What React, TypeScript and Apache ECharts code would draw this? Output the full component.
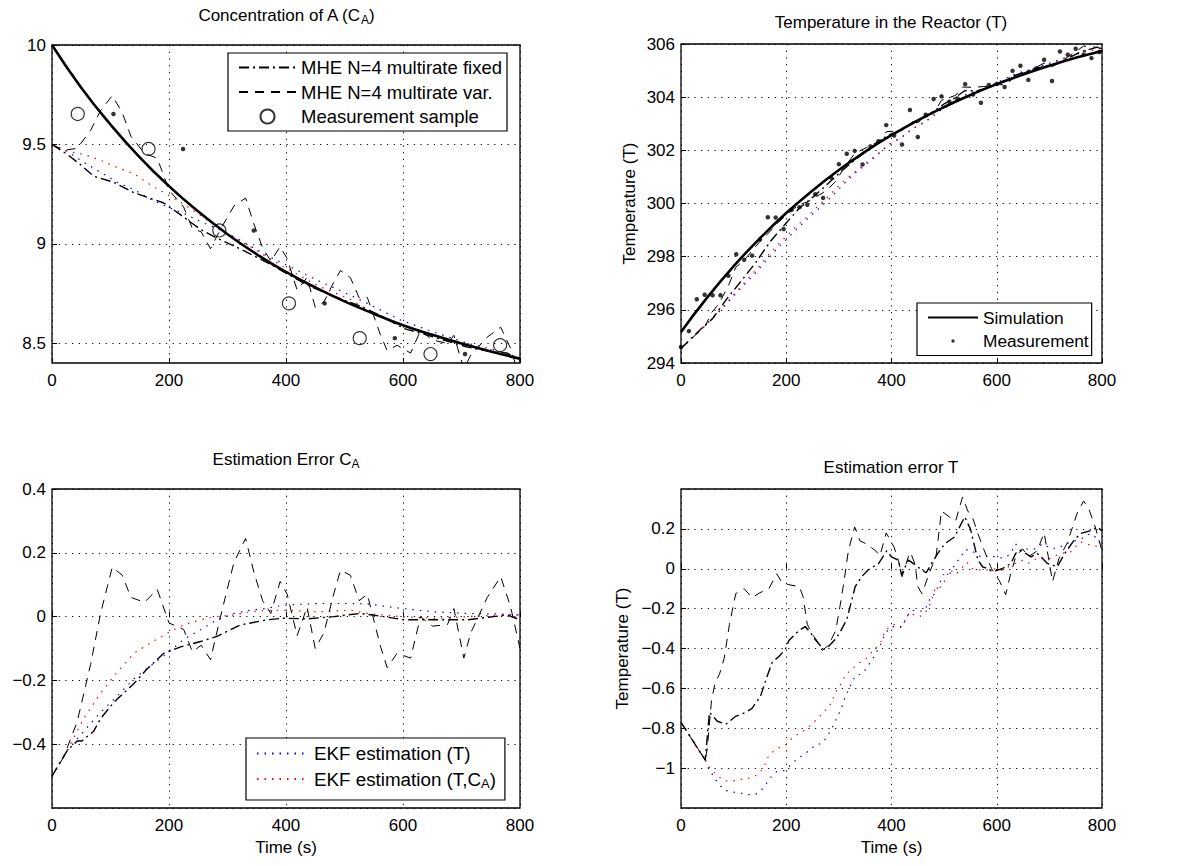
import React, { useEffect, useRef } from 'react';
import * as echarts from 'echarts';

const FONT = '"Liberation Sans", Arial, Helvetica, sans-serif';

// ---------- data ----------
const simTimes = [0, 50, 100, 150, 200, 250, 300, 350, 400, 450, 500, 550, 600, 650, 700, 750, 800];
const simCA = [10.0, 9.785, 9.6, 9.435, 9.29, 9.162, 9.048, 8.947, 8.858, 8.78, 8.71, 8.648, 8.59, 8.542, 8.498, 8.458, 8.422];
const simT = [295.17, 296.47, 297.64, 298.69, 299.64, 300.49, 301.26, 301.95, 302.57, 303.13, 303.63, 304.08, 304.49, 304.85, 305.18, 305.48, 305.74];

const caSamples = [[44, 9.653], [165, 9.477], [286, 9.067], [405, 8.7], [526, 8.525], [647, 8.445], [766, 8.49]];
const caMeasDots = [[105, 9.653], [224, 9.477], [345, 9.067], [466, 8.7], [586, 8.525], [706, 8.445]];

const caMheFixed = [[0, 9.5], [26, 9.45], [50, 9.395], [71, 9.34], [105, 9.31], [140, 9.257], [162, 9.235], [191, 9.205], [220, 9.145], [254, 9.072], [282, 9.028], [322, 8.974], [368, 8.905], [396, 8.859], [436, 8.793], [482, 8.735], [527, 8.686], [567, 8.63], [602, 8.573], [653, 8.53], [710, 8.48], [755, 8.455], [778, 8.45], [800, 8.41]];
const caMheVar = [[0, 9.5], [20, 9.47], [43, 9.48], [66, 9.57], [83, 9.67], [103, 9.745], [120, 9.66], [135, 9.54], [158, 9.455], [180, 9.43], [200, 9.27], [225, 9.185], [240, 9.077], [255, 9.06], [271, 8.975], [288, 9.073], [311, 9.19], [331, 9.23], [345, 9.1], [360, 8.98], [374, 8.913], [390, 8.985], [402, 8.925], [419, 8.767], [436, 8.83], [450, 8.68], [465, 8.708], [480, 8.797], [493, 8.865], [510, 8.83], [525, 8.728], [539, 8.73], [561, 8.545], [573, 8.462], [590, 8.489], [613, 8.45], [630, 8.564], [650, 8.516], [676, 8.498], [687, 8.539], [704, 8.37], [716, 8.44], [744, 8.53], [767, 8.58], [784, 8.473], [800, 8.32]];
const caEkfT = [[0, 9.5], [26, 9.465], [54, 9.41], [83, 9.36], [111, 9.31], [140, 9.272], [168, 9.225], [197, 9.185], [225, 9.153], [254, 9.111], [282, 9.077], [311, 9.035], [339, 8.99], [368, 8.94], [396, 8.9], [453, 8.817], [510, 8.741], [539, 8.7], [596, 8.616], [653, 8.555], [710, 8.5], [767, 8.458], [800, 8.425]];
const caEkfTCa = [[0, 9.5], [26, 9.465], [54, 9.45], [83, 9.42], [111, 9.385], [140, 9.352], [168, 9.297], [197, 9.248], [225, 9.199], [254, 9.142], [282, 9.087], [311, 9.03], [339, 8.985], [368, 8.933], [396, 8.884], [453, 8.791], [510, 8.72], [539, 8.67], [596, 8.59], [653, 8.535], [710, 8.49], [767, 8.455], [800, 8.425]];

const tMeas = [[0, 294.6], [15, 295.2], [30, 296.4], [45, 296.57], [60, 296.55], [75, 296.55], [90, 297.28], [105, 298.09], [120, 297.88], [135, 298.04], [150, 298.65], [165, 299.48], [180, 299.47], [195, 299.04], [210, 299.76], [225, 299.86], [240, 299.95], [255, 300.35], [270, 300.21], [285, 300.98], [300, 301.48], [315, 301.87], [330, 301.98], [345, 301.47], [360, 302.15], [375, 302.34], [390, 302.95], [405, 302.56], [420, 302.22], [435, 303.52], [450, 302.5], [465, 303.34], [480, 303.93], [495, 304.03], [510, 303.83], [525, 303.95], [540, 304.49], [555, 304.1], [570, 303.79], [585, 304.46], [600, 304.5], [615, 304.38], [630, 304.99], [645, 305.18], [660, 304.65], [675, 305.08], [690, 305.41], [705, 304.61], [720, 305.72], [735, 305.6], [750, 305.82], [765, 305.6], [780, 305.47], [795, 305.7]];
const tMheFixed = [[0, 294.55], [32, 295.17], [60, 295.67], [87, 296.41], [115, 297.1], [142, 297.78], [170, 298.58], [197, 299.2], [225, 299.83], [252, 300.26], [280, 300.76], [307, 301.25], [330, 301.63], [356, 302.03], [375, 302.29], [391, 302.55], [420, 302.77], [441, 303.06], [466, 303.27], [501, 303.76], [520, 303.97], [539, 304.24], [564, 304.24], [592, 304.41], [636, 304.83], [677, 305.1], [715, 305.27], [759, 305.7], [800, 305.93]];
const tMheVar = [[0, 294.55], [46, 295.39], [58, 295.89], [73, 296.25], [92, 297.0], [104, 297.6], [120, 297.87], [135, 298.22], [150, 298.57], [167, 298.9], [182, 299.24], [205, 299.65], [225, 299.97], [240, 300.05], [258, 300.27], [268, 300.38], [280, 300.55], [294, 300.84], [310, 301.34], [330, 301.88], [352, 302.1], [378, 302.36], [390, 302.7], [420, 302.74], [436, 303.08], [450, 303.04], [468, 303.28], [485, 303.55], [495, 303.88], [522, 304.07], [535, 304.38], [555, 304.37], [575, 304.4], [605, 304.47], [617, 304.47], [636, 304.79], [660, 304.98], [690, 305.28], [706, 305.15], [734, 305.5], [765, 305.92], [787, 305.88], [800, 305.83]];
const tEkfT = [[0, 294.55], [46, 295.41], [65, 295.78], [86, 296.21], [113, 296.8], [141, 297.37], [162, 297.85], [182, 298.29], [207, 298.78], [231, 299.25], [254, 299.67], [277, 300.08], [299, 300.52], [317, 300.89], [331, 301.15], [345, 301.36], [363, 301.65], [392, 302.17], [420, 302.51], [437, 302.78], [467, 303.11], [480, 303.3], [498, 303.58], [521, 303.85], [539, 304.08], [572, 304.32], [601, 304.55], [636, 304.88], [673, 305.1], [705, 305.31], [737, 305.53], [778, 305.81], [800, 305.85]];
const tEkfTCa = [[0, 294.55], [46, 295.41], [71, 295.93], [95, 296.46], [124, 297.1], [150, 297.67], [165, 298.04], [187, 298.5], [211, 298.99], [236, 299.44], [260, 299.9], [283, 300.32], [298, 300.63], [313, 300.91], [339, 301.33], [361, 301.67], [380, 301.96], [397, 302.25], [419, 302.48], [444, 302.85], [466, 303.09], [483, 303.44], [499, 303.56], [523, 303.86], [543, 304.05], [576, 304.3], [609, 304.55], [648, 304.88], [681, 305.1], [721, 305.39], [759, 305.66], [800, 305.84]];

const errCaMheFixed = [[0, -0.5], [26, -0.42], [43, -0.39], [51, -0.39], [71, -0.36], [83, -0.32], [105, -0.27], [140, -0.21], [162, -0.165], [191, -0.115], [220, -0.095], [254, -0.078], [282, -0.062], [322, -0.026], [368, -0.01], [396, -0.005], [436, -0.007], [482, 0.0], [527, 0.01], [567, 0.0], [602, -0.01], [653, -0.01], [710, -0.01], [755, 0.0], [778, 0.005], [800, -0.01]];
const errCaMheVar = [[0, -0.5], [20, -0.44], [43, -0.33], [66, -0.15], [83, 0.01], [103, 0.155], [120, 0.13], [135, 0.06], [158, 0.045], [180, 0.085], [200, -0.02], [225, -0.04], [240, -0.11], [255, -0.09], [271, -0.135], [288, 0.0], [311, 0.17], [331, 0.245], [345, 0.14], [360, 0.05], [374, 0.01], [390, 0.11], [402, 0.07], [419, -0.06], [436, 0.03], [450, -0.1], [465, -0.05], [480, 0.06], [493, 0.145], [510, 0.13], [525, 0.05], [539, 0.07], [561, -0.09], [573, -0.16], [590, -0.115], [613, -0.13], [630, 0.0], [650, -0.03], [676, -0.025], [687, 0.025], [704, -0.13], [716, -0.05], [744, 0.06], [767, 0.125], [784, 0.03], [800, -0.1]];
const errCaEkfT = [[0, -0.5], [26, -0.42], [54, -0.36], [83, -0.3], [111, -0.25], [140, -0.195], [168, -0.155], [197, -0.115], [225, -0.072], [254, -0.041], [282, -0.01], [311, 0.01], [339, 0.02], [368, 0.026], [396, 0.036], [453, 0.041], [510, 0.041], [539, 0.04], [596, 0.026], [653, 0.015], [710, 0.01], [767, 0.008], [800, 0.005]];
const errCaEkfTCa = [[0, -0.5], [26, -0.42], [54, -0.32], [83, -0.24], [111, -0.175], [140, -0.115], [168, -0.083], [197, -0.052], [225, -0.026], [254, -0.01], [282, 0.0], [311, 0.005], [339, 0.015], [368, 0.019], [396, 0.02], [453, 0.015], [510, 0.02], [539, 0.01], [596, 0.0], [653, -0.005], [710, 0.0], [767, 0.005], [800, 0.005]];

const errTMheVar = [[0, -0.77], [46, -0.96], [50, -0.9], [58, -0.66], [65, -0.57], [73, -0.53], [82, -0.45], [92, -0.28], [104, -0.125], [120, -0.1], [135, -0.145], [150, -0.12], [167, -0.1], [182, -0.025], [192, -0.07], [205, -0.08], [225, -0.09], [232, -0.14], [240, -0.28], [250, -0.33], [258, -0.36], [268, -0.41], [280, -0.385], [294, -0.31], [302, -0.19], [310, -0.06], [318, 0.09], [330, 0.21], [340, 0.14], [352, 0.125], [370, 0.09], [378, 0.065], [390, 0.18], [405, 0.108], [414, 0.033], [420, -0.04], [432, 0.06], [436, 0.083], [445, 0.02], [450, -0.09], [458, -0.125], [468, -0.05], [478, 0.02], [485, 0.07], [495, 0.29], [510, 0.26], [522, 0.24], [535, 0.36], [545, 0.29], [555, 0.25], [565, 0.17], [575, 0.1], [590, 0.0], [605, -0.06], [617, -0.13], [626, -0.03], [636, 0.06], [649, 0.1], [660, 0.06], [677, 0.09], [690, 0.18], [698, 0.06], [706, -0.065], [718, 0.05], [734, 0.13], [753, 0.28], [765, 0.34], [775, 0.3], [787, 0.21], [800, 0.09]];
const errTMheFixed = [[0, -0.77], [46, -0.96], [54, -0.72], [69, -0.765], [85, -0.78], [104, -0.74], [123, -0.72], [135, -0.7], [151, -0.64], [161, -0.56], [173, -0.47], [186, -0.44], [198, -0.405], [205, -0.36], [224, -0.31], [236, -0.29], [246, -0.32], [255, -0.355], [271, -0.405], [280, -0.39], [293, -0.355], [302, -0.32], [315, -0.255], [331, -0.09], [343, -0.04], [356, -0.005], [375, 0.025], [391, 0.09], [400, 0.06], [413, 0.043], [419, -0.03], [432, 0.043], [441, 0.027], [457, -0.005], [466, -0.02], [476, 0.027], [488, 0.077], [501, 0.125], [520, 0.16], [539, 0.26], [550, 0.2], [564, 0.045], [573, 0.01], [583, 0.0], [592, -0.015], [610, 0.0], [627, 0.027], [636, 0.077], [646, 0.093], [655, 0.077], [665, 0.06], [677, 0.077], [696, 0.027], [715, 0.01], [730, 0.08], [747, 0.143], [759, 0.177], [781, 0.193], [791, 0.21], [800, 0.19]];
const errTEkfT = [[0, -0.77], [46, -0.958], [57, -1.02], [65, -1.055], [74, -1.088], [86, -1.113], [99, -1.12], [113, -1.125], [127, -1.133], [141, -1.133], [153, -1.11], [162, -1.078], [171, -1.045], [182, -1.017], [196, -1.012], [207, -0.988], [219, -0.958], [231, -0.935], [243, -0.913], [254, -0.887], [268, -0.875], [277, -0.845], [285, -0.808], [292, -0.772], [299, -0.733], [306, -0.692], [311, -0.65], [317, -0.615], [324, -0.575], [331, -0.538], [345, -0.525], [363, -0.458], [378, -0.388], [385, -0.342], [392, -0.312], [403, -0.29], [420, -0.29], [431, -0.233], [437, -0.208], [460, -0.213], [467, -0.188], [475, -0.138], [480, -0.133], [491, -0.078], [498, -0.03], [510, -0.03], [521, 0.025], [531, 0.055], [539, 0.095], [550, 0.095], [572, 0.055], [587, 0.067], [601, 0.055], [615, 0.055], [626, 0.075], [636, 0.125], [645, 0.088], [659, 0.1], [673, 0.1], [687, 0.125], [705, 0.1], [721, 0.11], [737, 0.13], [762, 0.152], [778, 0.177], [791, 0.152], [800, 0.11]];
const errTEkfTCa = [[0, -0.77], [46, -0.958], [50, -0.983], [60, -1.013], [71, -1.042], [83, -1.063], [95, -1.067], [109, -1.058], [124, -1.053], [138, -1.045], [150, -1.022], [159, -0.987], [165, -0.947], [175, -0.917], [187, -0.897], [200, -0.88], [211, -0.85], [223, -0.828], [236, -0.808], [247, -0.783], [260, -0.75], [272, -0.717], [283, -0.683], [290, -0.642], [298, -0.6], [306, -0.57], [313, -0.53], [327, -0.5], [339, -0.472], [350, -0.455], [361, -0.422], [372, -0.392], [380, -0.367], [386, -0.322], [397, -0.287], [408, -0.278], [419, -0.297], [433, -0.222], [444, -0.233], [455, -0.238], [466, -0.213], [474, -0.175], [483, -0.1], [490, -0.1], [499, -0.072], [511, -0.005], [523, -0.027], [534, 0.005], [543, 0.033], [556, -0.005], [565, -0.005], [576, -0.008], [596, 0.0], [609, -0.008], [630, 0.02], [648, 0.042], [660, 0.028], [681, 0.058], [700, 0.05], [721, 0.077], [740, 0.085], [759, 0.135], [778, 0.118], [795, 0.11], [800, 0.1]];

const caTicks = [8.5, 9, 9.5, 10];

// ---------- names ----------
const N_SIM = 'Simulation';
const N_MEAS = 'Measurement';
const N_SAMPLE = 'Measurement sample';
const N_FIXED = 'MHE N=4 multirate fixed';
const N_VAR = 'MHE N=4 multirate var.';
const N_EKF_T = 'EKF estimation (T)';
const N_EKF_TC = 'EKF estimation (T,CA)';

const DOT_ICON = 'path://M0,0M20,0M20,20M0,20M7.6,10A2.4,2.4,0,1,1,12.4,10A2.4,2.4,0,1,1,7.6,10Z';

const fmt = (v: number) => {
  const s = String(Math.round(v * 1000) / 1000);
  return s.replace('-', '\u2212');
};

const lineStyles: Record<string, any> = {
  [N_FIXED]: { color: '#000', width: 1.4, type: [10, 4, 2, 4] },
  [N_VAR]: { color: '#000', width: 1, type: [9, 7] },
  [N_EKF_T]: { color: '#0000ff', width: 1.2, type: [1.5, 6] },
  [N_EKF_TC]: { color: '#ff0000', width: 1.2, type: [1.5, 6] },
};

function lineSeries(name: string, idx: number, data: number[][], z = 2) {
  const ls = lineStyles[name];
  return {
    type: 'line', name, xAxisIndex: idx, yAxisIndex: idx, data,
    symbol: 'none', showSymbol: false, lineStyle: ls, itemStyle: { color: ls.color },
    z, clip: true,
  };
}

function simSeries(idx: number, vals: number[]) {
  return {
    type: 'line', name: N_SIM, xAxisIndex: idx, yAxisIndex: idx,
    data: simTimes.map((t, i) => [t, vals[i]]), smooth: true,
    symbol: 'none', showSymbol: false, lineStyle: { color: '#000', width: 2.6 }, itemStyle: { color: '#000' }, z: 3,
  };
}

function dotSeries(idx: number, data: number[][]) {
  return {
    type: 'scatter', name: N_MEAS, xAxisIndex: idx, yAxisIndex: idx, data,
    symbol: 'circle', symbolSize: 4.5, itemStyle: { color: '#000' }, z: 4,
  };
}

const labelStyle = { color: '#000', fontSize: 17, fontFamily: FONT };
const splitStyle = { show: true, lineStyle: { color: '#000', width: 1, type: [1.2, 5.5] } };

function xAxis(idx: number, withName: boolean) {
  return {
    type: 'value', gridIndex: idx, min: 0, max: 800, interval: 200,
    axisLine: { show: false },
    axisTick: { show: true, inside: true, length: 5, lineStyle: { color: '#000' } },
    axisLabel: { ...labelStyle, margin: 9, formatter: fmt },
    splitLine: splitStyle,
    name: withName ? 'Time (s)' : '', nameLocation: 'middle', nameGap: 31,
    nameTextStyle: { ...labelStyle },
  };
}

function yAxis(idx: number, min: number, max: number, interval: number | null, opts: any = {}) {
  const a: any = {
    type: 'value', gridIndex: idx, min, max,
    axisLine: { show: false },
    axisTick: { show: true, inside: true, length: 5, lineStyle: { color: '#000' } },
    axisLabel: { ...labelStyle, margin: 6, formatter: fmt },
    splitLine: splitStyle,
    nameLocation: 'middle',
    nameTextStyle: { ...labelStyle },
    ...opts,
  };
  if (interval !== null) a.interval = interval;
  return a;
}

const subRich = (fs: number) => ({ s: { fontSize: Math.round(fs * 0.7), fontFamily: FONT, color: '#000', padding: [Math.round(fs * 0.5), 0, 0, 0] } });

function titleText(x: number, y: number, text: string) {
  return {
    type: 'text', x, y, z: 10,
    style: {
      text, rich: subRich(17), fill: '#000', fontSize: 17, fontFamily: FONT,
      align: 'center', verticalAlign: 'middle',
    },
  };
}

const HIDE_SYM = { opacity: 0, color: 'rgba(0,0,0,0)', borderColor: 'rgba(0,0,0,0)', borderWidth: 0 };
const lineItem = (name: string) => ({ name, itemStyle: HIDE_SYM });

function legendBox(names: any[], left: number, top: number, pad: number[], gap: number, fs: number, iw: number) {
  return {
    data: names, left, top, orient: 'vertical',
    itemWidth: iw, itemHeight: 14, itemGap: gap,
    padding: pad,
    borderColor: '#000', borderWidth: 1.2, backgroundColor: '#fff',
    textStyle: { color: '#000', fontSize: fs, fontFamily: FONT, rich: subRich(fs) },
    formatter: (n: string) => (n === N_EKF_TC ? 'EKF estimation (T,C{s|A})' : n),
    selectedMode: false,
  };
}

export default function App() {
  const ref = useRef<HTMLDivElement>(null);
  useEffect(() => {
    if (!ref.current) return;
    const chart = echarts.init(ref.current, null, { renderer: 'svg' });
    const G = { show: true, borderColor: '#000', borderWidth: 1.3, backgroundColor: '#fff' };
    const option: any = {
      animation: false,
      backgroundColor: '#fff',
      grid: [
        { ...G, left: 52, top: 45, width: 468, height: 318 },
        { ...G, left: 681, top: 44, width: 421, height: 319 },
        { ...G, left: 52, top: 489, width: 468, height: 319 },
        { ...G, left: 681, top: 489, width: 421, height: 319 },
      ],
      xAxis: [xAxis(0, false), xAxis(1, false), xAxis(2, true), xAxis(3, true)],
      yAxis: [
        yAxis(0, 8.4, 10, null, {
          axisLabel: { ...labelStyle, margin: 6, formatter: fmt, customValues: caTicks },
          axisTick: { show: true, inside: true, length: 5, lineStyle: { color: '#000' }, customValues: caTicks },
        }),
        yAxis(1, 294, 306, 2, { name: 'Temperature (T)', nameGap: 43 }),
        yAxis(2, -0.6, 0.4, 0.2, { axisLabel: { ...labelStyle, margin: 6, formatter: fmt, showMinLabel: false } }),
        yAxis(3, -1.2, 0.4, 0.2, {
          name: 'Temperature (T)', nameGap: 50,
          axisLabel: { ...labelStyle, margin: 6, formatter: fmt, showMinLabel: false, showMaxLabel: false },
        }),
      ],
      legend: [
        legendBox([lineItem(N_FIXED), lineItem(N_VAR), { name: N_SAMPLE }], 228, 53, [5, 5, 5, 10], 5.5, 18.5, 57),
        legendBox([lineItem(N_SIM), { name: N_MEAS, icon: DOT_ICON }], 917, 303, [6, 3, 6, 10], 6.5, 17.3, 50),
        legendBox([lineItem(N_EKF_T), lineItem(N_EKF_TC)], 246, 738, [6, 9, 10, 10], 6.5, 18.8, 52),
      ],
      graphic: [
        titleText(286, 15, 'Concentration of A (C{s|A})'),
        titleText(891, 22, 'Temperature in the Reactor (T)'),
        titleText(286, 459, 'Estimation Error C{s|A}'),
        titleText(891, 467, 'Estimation error T'),
      ],
      series: [
        // top-left
        lineSeries(N_EKF_T, 0, caEkfT),
        lineSeries(N_EKF_TC, 0, caEkfTCa),
        lineSeries(N_FIXED, 0, caMheFixed),
        lineSeries(N_VAR, 0, caMheVar),
        simSeries(0, simCA),
        dotSeries(0, caMeasDots),
        {
          type: 'scatter', name: N_SAMPLE, xAxisIndex: 0, yAxisIndex: 0, data: caSamples,
          symbol: 'circle', symbolSize: 13,
          itemStyle: { color: 'rgba(255,255,255,0)', borderColor: '#000', borderWidth: 1.2 }, z: 5,
        },
        // top-right
        lineSeries(N_EKF_T, 1, tEkfT),
        lineSeries(N_EKF_TC, 1, tEkfTCa),
        lineSeries(N_FIXED, 1, tMheFixed),
        lineSeries(N_VAR, 1, tMheVar),
        simSeries(1, simT),
        dotSeries(1, tMeas),
        // bottom-left
        lineSeries(N_EKF_T, 2, errCaEkfT),
        lineSeries(N_EKF_TC, 2, errCaEkfTCa),
        lineSeries(N_FIXED, 2, errCaMheFixed),
        lineSeries(N_VAR, 2, errCaMheVar),
        // bottom-right
        lineSeries(N_EKF_T, 3, errTEkfT),
        lineSeries(N_EKF_TC, 3, errTEkfTCa),
        lineSeries(N_FIXED, 3, errTMheFixed),
        lineSeries(N_VAR, 3, errTMheVar),
      ],
    };
    chart.setOption(option);
    return () => chart.dispose();
  }, []);
  return (
    <div
      ref={ref}
      style={{ position: 'absolute', left: 0, top: 0, width: 1198, height: 866, background: '#fff' }}
    />
  );
}
